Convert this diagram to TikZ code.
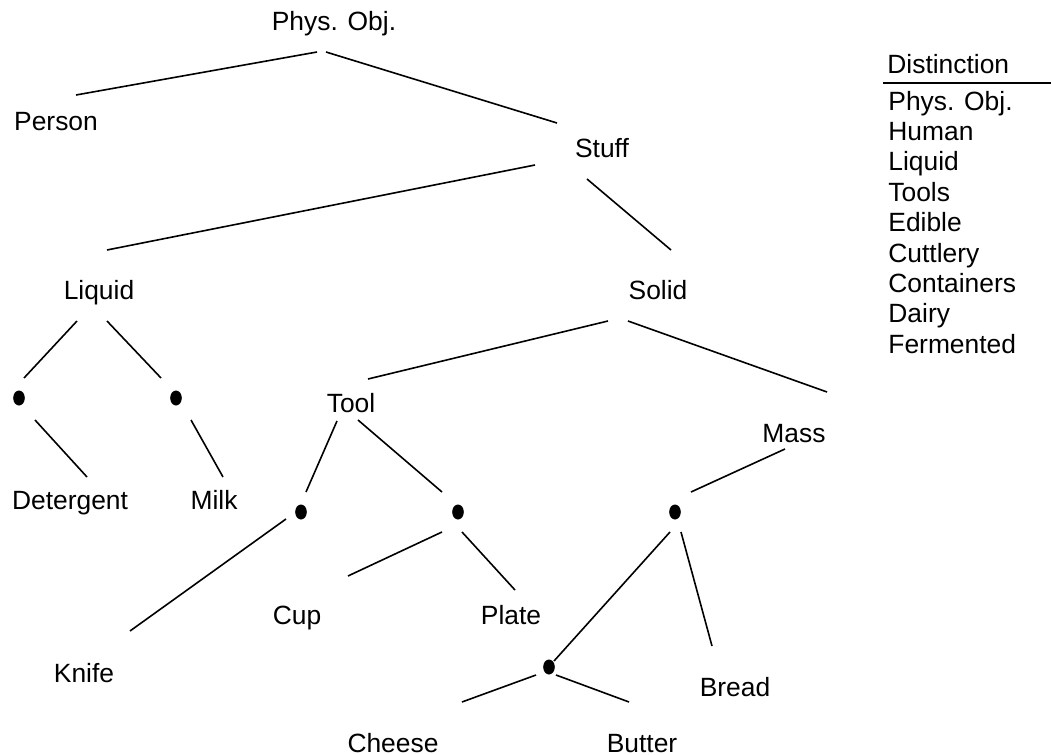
\documentclass[tikz,border=0pt]{standalone}
\usepackage{fontspec}
\setmainfont{Liberation Sans}
\usepackage{tikz}
\usetikzlibrary{
  calc,
  shapes.geometric
}

\begin{document}
\begin{tikzpicture}[
  x=0.5pt, y=-0.5pt,
  lbl/.style={anchor=base, inner sep=0pt, font=\fontsize{13.2}{15}\selectfont},
  tabtxt/.style={anchor=base west, inner sep=0pt, font=\fontsize{13.2}{15}\selectfont},
  knot/.style={ellipse, fill=black, inner sep=0pt, minimum width=5.8pt, minimum height=7.5pt},
  branch/.style={line width=0.8pt},
]
  \useasboundingbox (0,0) rectangle (1051,755);

  % Labelled categories
  \node[lbl] (phys)      at (334,31)  {Phys. Obj.};
  \node[lbl] (person)    at (56,130)  {Person};
  \node[lbl] (stuff)     at (602,157) {Stuff};
  \node[lbl] (liquid)    at (99,299)  {Liquid};
  \node[lbl] (solid)     at (658,299) {Solid};
  \node[lbl] (tool)      at (351,412) {Tool};
  \node[lbl] (mass)      at (794,442) {Mass};
  \node[lbl] (detergent) at (70,509)  {Detergent};
  \node[lbl] (milk)      at (214,509) {Milk};
  \node[lbl] (cup)       at (297,624) {Cup};
  \node[lbl] (plate)     at (511,624) {Plate};
  \node[lbl] (knife)     at (84,682)  {Knife};
  \node[lbl] (bread)     at (735,696) {Bread};
  \node[lbl] (cheese)    at (393,752) {Cheese};
  \node[lbl] (butter)    at (642,752) {Butter};

  % Unlabelled branching points
  \node[knot] (k1) at (19,398)  {};
  \node[knot] (k2) at (176,398) {};
  \node[knot] (k3) at (301,512) {};
  \node[knot] (k4) at (458,512) {};
  \node[knot] (k5) at (675,512) {};
  \node[knot] (k6) at (549,667) {};

  % Branches
  \draw[branch] ($(phys.base)+(-17,21)$)   -- ($(person.base)+(20,-35)$);
  \draw[branch] ($(phys.base)+(-8,21)$)    -- ($(stuff.base)+(-45,-34)$);
  \draw[branch] ($(stuff.base)+(-67,8)$)   -- ($(liquid.base)+(8,-49)$);
  \draw[branch] ($(stuff.base)+(-15,22)$)  -- ($(solid.base)+(13,-49)$);
  \draw[branch] ($(liquid.base)+(-22,22)$) -- ($(k1)+(5,-20)$);
  \draw[branch] ($(liquid.base)+(8,22)$)   -- ($(k2)+(-15,-20)$);
  \draw[branch] ($(k1)+(16,22)$)           -- ($(detergent.base)+(17,-32)$);
  \draw[branch] ($(k2)+(15,22)$)           -- ($(milk.base)+(9,-32)$);
  \draw[branch] ($(solid.base)+(-50,22)$)  -- ($(tool.base)+(17,-33)$);
  \draw[branch] ($(solid.base)+(-30,22)$)  -- ($(mass.base)+(33,-50)$);
  \draw[branch] ($(tool.base)+(-14,9)$)    -- ($(k3)+(5,-20)$);
  \draw[branch] ($(tool.base)+(7,8)$)      -- ($(k4)+(-16,-20)$);
  \draw[branch] ($(k3)+(-15,7)$)           -- ($(knife.base)+(46,-51)$);
  \draw[branch] ($(k4)+(-16,20)$)          -- ($(cup.base)+(51,-48)$);
  \draw[branch] ($(k4)+(4,20)$)            -- ($(plate.base)+(4,-34)$);
  \draw[branch] ($(mass.base)+(-9,7)$)     -- ($(k5)+(16,-20)$);
  \draw[branch] ($(k5)+(-5,20)$)           -- ($(k6)+(5,-6)$);
  \draw[branch] ($(k5)+(6,20)$)            -- ($(bread.base)+(-23,-50)$);
  \draw[branch] ($(k6)+(-13,8)$)           -- ($(cheese.base)+(69,-50)$);
  \draw[branch] ($(k6)+(7,8)$)             -- ($(butter.base)+(-13,-50)$);

  % Distinction table
  \node[tabtxt] (disthead) at (887,73) {Distinction};
  \draw[branch] ($(disthead.base west)+(-4,10)$) -- ++(168,0);
  \foreach \word [count=\i] in {Phys. Obj., Human, Liquid, Tools, Edible,
                                Cuttlery, Containers, Dairy, Fermented}
    \node[tabtxt] (row\i) at (888,{110+30.4*(\i-1)}) {\word};
\end{tikzpicture}
\end{document}
